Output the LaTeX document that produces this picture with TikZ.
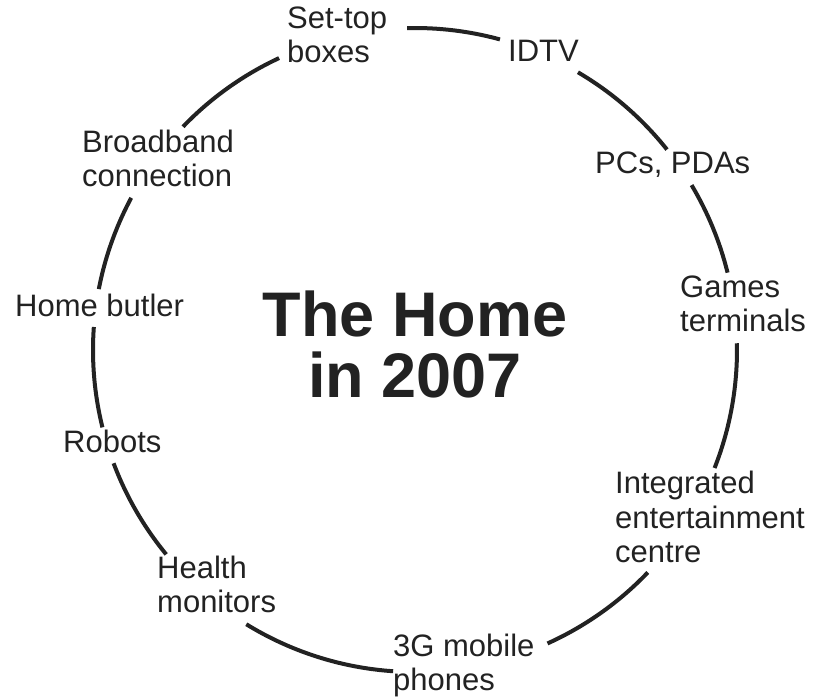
\documentclass[tikz,border=0pt]{standalone}
\usepackage{fontspec}
\setmainfont{Liberation Sans}
\definecolor{ink}{HTML}{222222}
\begin{document}
\begin{tikzpicture}[x=1pt,y=1pt,
  lbl/.style={anchor=base west, inner sep=0pt, align=left, font=\fontsize{31}{34.5}\selectfont, text=ink},
  ring/.style={line width=4pt, draw=ink}]
\useasboundingbox (0,0) rectangle (815,699);
\coordinate (C) at (415,349);
% base anchors of multi-line nodes sit on the last line
\node[lbl] (settop) at (287,636) {Set-top\\boxes};
\node[lbl] (idtv) at (508,637) {IDTV};
\node[lbl] (pcs) at (595,525) {PCs, PDAs};
\node[lbl] (games) at (680,367) {Games\\terminals};
\node[lbl] (iec) at (615,136) {Integrated\\entertainment\\centre};
\node[lbl] (mobile) at (393,8) {3G mobile\\phones};
\node[lbl] (health) at (157,86) {Health\\monitors};
\node[lbl] (robots) at (63,246) {Robots};
\node[lbl] (butler) at (15,382) {Home butler};
\node[lbl] (broad) at (82,512) {Broadband\\connection};
\node[anchor=base, inner sep=0pt, align=center, text=ink,
      font=\fontsize{63}{61}\selectfont\bfseries] (title) at (415,301) {The Home\\in 2007};
\foreach \a/\b in {91.4/74.7, 59.6/38.5, 30.8/13.9, 1.2/-21.5, -43.7/-65.7,
                   -93.9/-121.6, -140.6/-159.4, -166.1/-184.1, -190.9/-208.2, -223.9/-245.04}
  \draw[ring] ([shift={(\a:322)}]C) arc[start angle=\a, end angle=\b, radius=322];
\end{tikzpicture}
\end{document}
